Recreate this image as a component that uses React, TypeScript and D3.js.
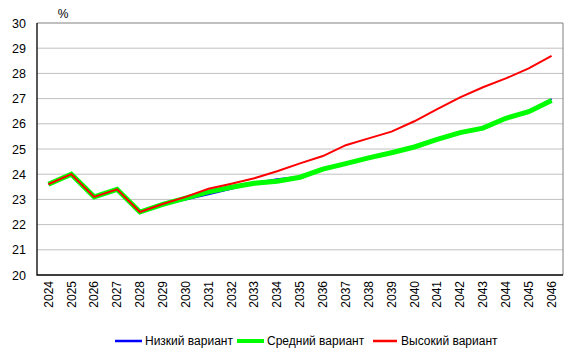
import * as d3 from "d3";
import React, { useEffect, useRef } from "react";

// years on the x axis
const YEARS = d3.range(2024, 2047).map(String);

// share, %
const LOW = [23.6, 24.0, 23.1, 23.4, 22.5, 22.8, 23.0, 23.2, 23.42, 23.65, 23.8, 23.9, 24.2, 24.42, 24.65, 24.85, 25.08, 25.38, 25.65, 25.86, 26.22, 26.5, 26.98];
const MEDIUM = [23.6, 24.0, 23.1, 23.4, 22.5, 22.8, 23.05, 23.3, 23.48, 23.64, 23.72, 23.88, 24.2, 24.42, 24.65, 24.85, 25.08, 25.38, 25.65, 25.83, 26.22, 26.48, 26.92];
const HIGH = [23.6, 24.0, 23.1, 23.4, 22.5, 22.82, 23.1, 23.42, 23.62, 23.84, 24.12, 24.43, 24.72, 25.15, 25.42, 25.69, 26.1, 26.58, 27.05, 27.45, 27.8, 28.2, 28.7];

const Y_TICKS = d3.range(20, 31);

const SERIES = [
  { name: "Низкий вариант", values: LOW, color: "#0000ff", width: 2 },
  { name: "Средний вариант", values: MEDIUM, color: "#00ff00", width: 5 },
  { name: "Высокий вариант", values: HIGH, color: "#ff0000", width: 2 },
];

const FONT = "Arial, 'Liberation Sans', sans-serif";

export default function App() {
  const svgRef = useRef<SVGSVGElement | null>(null);

  useEffect(() => {
    const width = 575, height = 354;
    const m = { left: 37, right: 12, top: 23, bottom: 79 };
    const svg = d3.select(svgRef.current);
    svg.selectAll("*").remove();

    const x = d3.scaleBand<string>().domain(YEARS).range([m.left, width - m.right]);
    const y = d3.scaleLinear().domain([20, 30]).range([height - m.bottom, m.top]);

    // gridlines
    svg.append("g")
      .selectAll("line")
      .data(Y_TICKS.slice(1, -1))
      .join("line")
      .attr("x1", m.left).attr("x2", width - m.right)
      .attr("y1", d => y(d)).attr("y2", d => y(d))
      .attr("stroke", "#c0c0c0").attr("stroke-width", 1);

    // plot frame (top/right grey)
    svg.append("path")
      .attr("d", `M${m.left},${y(30)}H${width - m.right}V${y(20)}`)
      .attr("fill", "none").attr("stroke", "#808080").attr("stroke-width", 1);

    // axes lines
    svg.append("path")
      .attr("d", `M${m.left},${y(30)}V${y(20)}H${width - m.right}`)
      .attr("fill", "none").attr("stroke", "#000").attr("stroke-width", 1.3);

    // y labels
    svg.append("g")
      .selectAll("text")
      .data(Y_TICKS)
      .join("text")
      .attr("x", 26)
      .attr("y", d => y(d))
      .attr("dy", "0.36em")
      .attr("text-anchor", "end")
      .attr("font-family", FONT).attr("font-size", 12.5)
      .text(d => d);

    svg.append("text")
      .attr("x", 63).attr("y", 18)
      .attr("text-anchor", "middle")
      .attr("font-family", FONT).attr("font-size", 12)
      .text("%");

    // x labels, rotated
    svg.append("g")
      .selectAll("text")
      .data(YEARS)
      .join("text")
      .attr("transform", d => `translate(${(x(d) ?? 0) + x.bandwidth() / 2},${y(20) + 6}) rotate(-90)`)
      .attr("dy", "0.35em")
      .attr("text-anchor", "end")
      .attr("font-family", FONT).attr("font-size", 12)
      .text(d => d);

    // lines
    const line = d3.line<number>()
      .x((_, i) => (x(YEARS[i]) ?? 0) + x.bandwidth() / 2)
      .y(d => y(d));

    svg.append("g")
      .selectAll("path")
      .data(SERIES)
      .join("path")
      .attr("d", s => line(s.values))
      .attr("fill", "none")
      .attr("stroke", s => s.color)
      .attr("stroke-width", s => s.width)
      .attr("stroke-linejoin", "miter");

    // legend
    const legendX = [115, 237, 373];
    const lg = svg.append("g")
      .selectAll("g")
      .data(SERIES)
      .join("g")
      .attr("transform", (_, i) => `translate(${legendX[i]},341)`);
    lg.append("line")
      .attr("x1", 0).attr("x2", (_, i) => (i === 2 ? 24 : 27))
      .attr("stroke", s => s.color)
      .attr("stroke-width", s => (s.width > 2 ? 4 : 2.5));
    lg.append("text")
      .attr("x", (_, i) => (i === 2 ? 28 : 30))
      .attr("dy", "0.35em")
      .attr("font-family", FONT).attr("font-size", 12)
      .text(s => s.name);
  }, []);

  return (
    <div style={{ position: "fixed", left: 0, top: 0, background: "#fff" }}>
      <svg ref={svgRef} width={575} height={354} style={{ display: "block" }} />
    </div>
  );
}
